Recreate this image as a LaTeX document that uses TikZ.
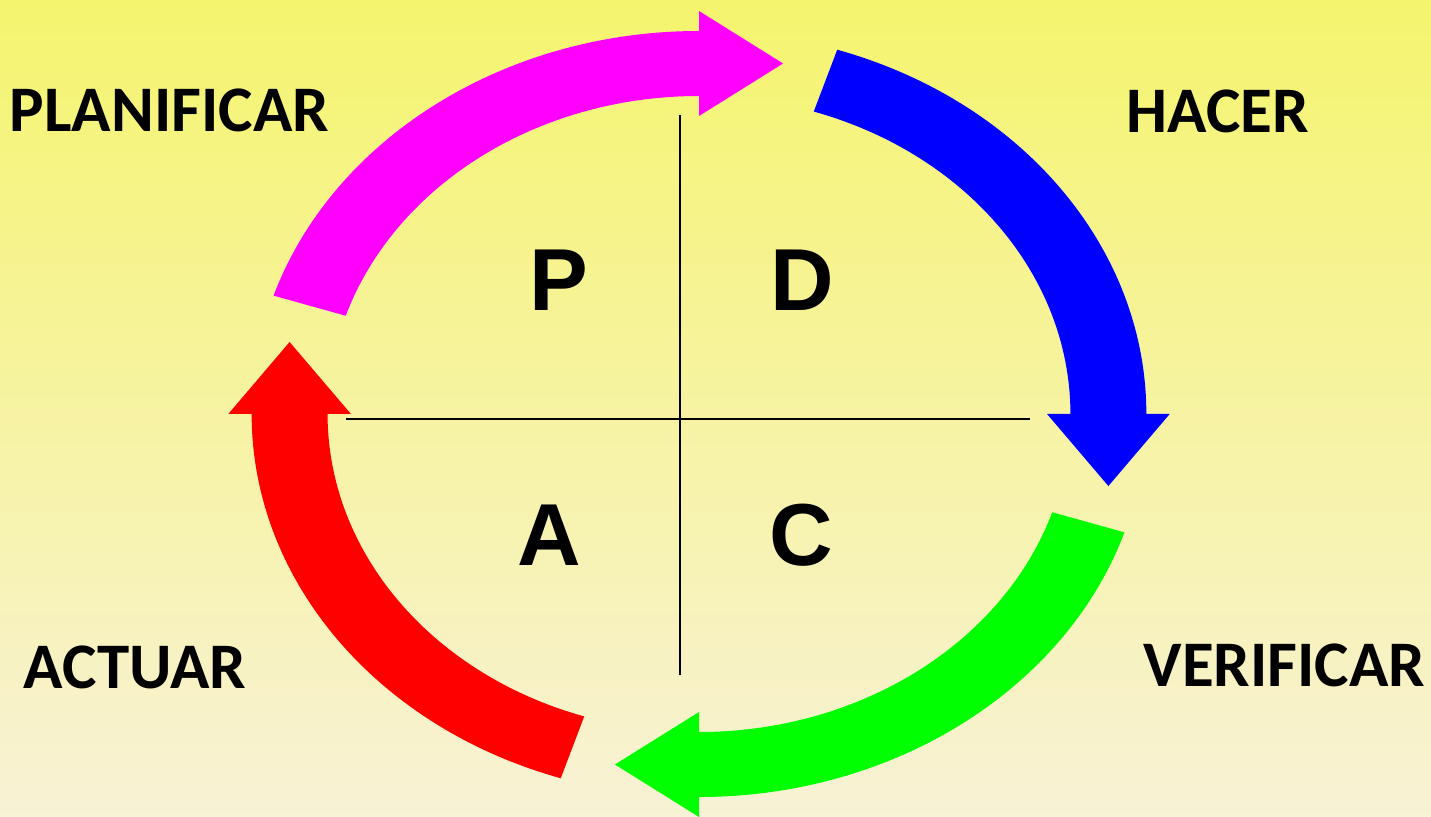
\documentclass[tikz,border=0pt]{standalone}
\usepackage{fontspec}
\usetikzlibrary{calc}
\newfontfamily\labelfont{Carlito}
\newfontfamily\letterfont{Liberation Sans}
\definecolor{bgtop}{RGB}{245,244,110}
\definecolor{bgmid}{RGB}{237,232,196}
\definecolor{bgbot}{RGB}{248,242,214}
\definecolor{planc}{RGB}{255,0,255}
\definecolor{doc}{RGB}{0,0,255}
\definecolor{checkc}{RGB}{0,255,0}
\definecolor{actc}{RGB}{255,0,0}
\tikzset{
  stage/.style={anchor=base,inner sep=0pt,font=\labelfont\bfseries\fontsize{65}{65}\selectfont},
  quad/.style={anchor=base,inner sep=0pt,font=\letterfont\bfseries\fontsize{88}{88}\selectfont}
}

\begin{document}
\begin{tikzpicture}[x=1pt,y=1pt]
    \useasboundingbox (-699,-402) rectangle (732,414);
    \shade[top color=bgtop,middle color=bgmid,bottom color=bgbot] (-699,-402) rectangle (732,414);
    % arrows on an ellipse, drawn on a circle and stretched
    \begin{scope}[xscale=1.168]
    \fill[planc] (162:383) arc[start angle=162,end angle=90,radius=383] -- (90:403) -- ($(90:350.5)+(0:72)$) -- (90:298) -- (90:318) arc[start angle=90,end angle=162,radius=318] -- cycle;
    \fill[doc] (72:383) arc[start angle=72,end angle=0,radius=383] -- (0:403) -- ($(0:350.5)+(-90:72)$) -- (0:298) -- (0:318) arc[start angle=0,end angle=72,radius=318] -- cycle;
    \fill[checkc] (-18:383) arc[start angle=-18,end angle=-90,radius=383] -- (-90:403) -- ($(-90:350.5)+(180:72)$) -- (-90:298) -- (-90:318) arc[start angle=-90,end angle=-18,radius=318] -- cycle;
    \fill[actc] (252:383) arc[start angle=252,end angle=180,radius=383] -- (180:403) -- ($(180:350.5)+(90:72)$) -- (180:298) -- (180:318) arc[start angle=180,end angle=252,radius=318] -- cycle;
    \end{scope}
    % cross
    \draw[line width=2.5pt] (-19,299)--(-19,-261);
    \draw[line width=2.5pt] (-353,-5)--(331,-5);
    \node[quad] (p) at (-140,103) {P};
    \node[quad] (d) at (103.5,103) {D};
    \node[quad] (a) at (-149.5,-151) {A};
    \node[quad] (c) at (102.5,-151) {C};
    \node[stage] (plan) at (-529.5,282) {PLANIFICAR};
    \node[stage] (hacer) at (518.5,281) {HACER};
    \node[stage] (actuar) at (-564,-274) {ACTUAR};
    \node[stage] (verif) at (585.5,-272) {VERIFICAR};
  \end{tikzpicture}
\end{document}
